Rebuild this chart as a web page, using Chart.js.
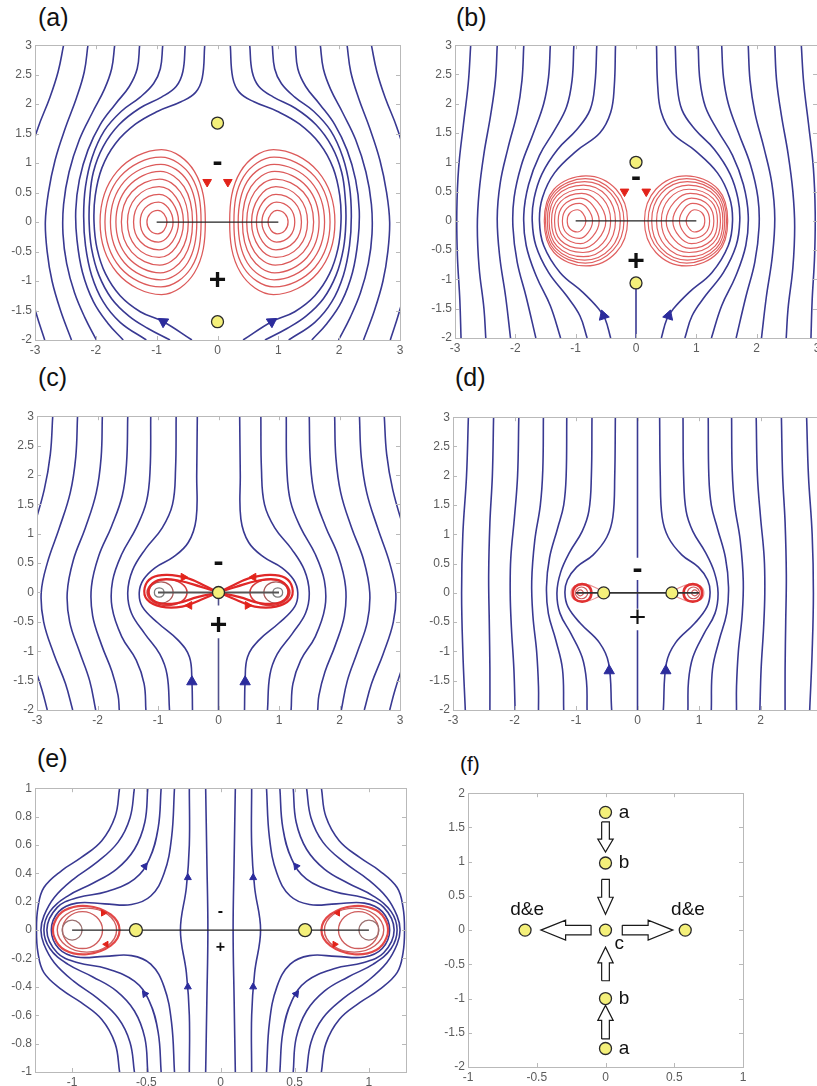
<!DOCTYPE html>
<html>
<head>
<meta charset="utf-8">
<title>Streamlines of a vortex pair, panels (a)-(f)</title>
<script src="https://cdn.jsdelivr.net/npm/chart.js@4.4.1/dist/chart.umd.min.js"></script>
<style>
  html, body { margin: 0; padding: 0; background: #fff; }
  body { position: relative; width: 817px; height: 1086px; overflow: hidden; font-family: 'Liberation Sans', Arial, sans-serif; }
  canvas { position: absolute; }
  .tag { position: absolute; font-size: 25px; line-height: 25px; color: #111; }
</style>
</head>
<body>
<div class="tag" style="left:38px;top:5px">(a)</div>
<div class="tag" style="left:456px;top:5px">(b)</div>
<div class="tag" style="left:38px;top:365px">(c)</div>
<div class="tag" style="left:455px;top:365px">(d)</div>
<div class="tag" style="left:37px;top:746px">(e)</div>
<div class="tag" style="left:460px;top:753px;font-size:21px;line-height:21px">(f)</div>
<script>
// ---------- tick values ----------
const ticksX3 = [-3, -2, -1, 0, 1, 2, 3];
const ticksY3 = [-2, -1.5, -1, -0.5, 0, 0.5, 1, 1.5, 2, 2.5, 3];
const ticksXe = [-1, -0.5, 0, 0.5, 1];
const ticksYe = [-1, -0.8, -0.6, -0.4, -0.2, 0, 0.2, 0.4, 0.6, 0.8, 1];
const ticksXf = [-1, -0.5, 0, 0.5, 1];
const ticksYf = [-2, -1.5, -1, -0.5, 0, 0.5, 1, 1.5, 2];

// ---------- panel (a) ----------  curves are [x,y, x,y, ...]
const aBlue = [
  [-0.21,3, -0.25,2.45, -0.36,2.2, -0.6,2.04, -0.98,1.88, -1.35,1.66, -1.68,1.33, -1.9,0.92, -2.01,0.45, -2.03,0, -1.98,-0.45, -1.84,-0.88, -1.6,-1.25, -1.27,-1.52, -0.89,-1.69, -0.42,-2],
  [-0.53,3, -0.57,2.55, -0.68,2.3, -0.92,2.12, -1.28,1.93, -1.62,1.65, -1.88,1.28, -2.04,0.85, -2.1,0.4, -2.11,0, -2.07,-0.45, -1.95,-0.9, -1.74,-1.3, -1.45,-1.6, -1.15,-1.8, -0.78,-2],
  [-0.9,3, -0.94,2.6, -1.05,2.35, -1.27,2.12, -1.58,1.88, -1.86,1.55, -2.06,1.1, -2.17,0.6, -2.2,0.1, -2.17,-0.4, -2.07,-0.9, -1.88,-1.35, -1.6,-1.7, -1.17,-2],
  [-1.28,3, -1.32,2.6, -1.45,2.3, -1.68,2.0, -1.93,1.65, -2.13,1.22, -2.27,0.72, -2.33,0.2, -2.31,-0.3, -2.22,-0.85, -2.04,-1.35, -1.8,-1.72, -1.55,-2],
  [-1.69,3, -1.74,2.6, -1.86,2.25, -2.06,1.85, -2.27,1.4, -2.44,0.85, -2.53,0.3, -2.54,-0.2, -2.48,-0.7, -2.35,-1.2, -2.18,-1.62, -1.99,-2],
  [-2.13,3, -2.19,2.55, -2.32,2.1, -2.5,1.6, -2.67,1.05, -2.78,0.5, -2.83,0, -2.8,-0.5, -2.72,-1.0, -2.58,-1.5, -2.4,-2],
  [-2.53,3, -2.62,2.55, -2.76,2.1, -2.95,1.6, -3.12,1.0, -3.22,0.3, -3.22,-0.3, -3.12,-1.0, -2.98,-1.55, -2.84,-2],
  [0.21,3, 0.25,2.45, 0.36,2.2, 0.6,2.04, 0.98,1.88, 1.35,1.66, 1.68,1.33, 1.9,0.92, 2.01,0.45, 2.03,0, 1.98,-0.45, 1.84,-0.88, 1.6,-1.25, 1.27,-1.52, 0.89,-1.69, 0.42,-2],
  [0.53,3, 0.57,2.55, 0.68,2.3, 0.92,2.12, 1.28,1.93, 1.62,1.65, 1.88,1.28, 2.04,0.85, 2.1,0.4, 2.11,0, 2.07,-0.45, 1.95,-0.9, 1.74,-1.3, 1.45,-1.6, 1.15,-1.8, 0.78,-2],
  [0.9,3, 0.94,2.6, 1.05,2.35, 1.27,2.12, 1.58,1.88, 1.86,1.55, 2.06,1.1, 2.17,0.6, 2.2,0.1, 2.17,-0.4, 2.07,-0.9, 1.88,-1.35, 1.6,-1.7, 1.17,-2],
  [1.28,3, 1.32,2.6, 1.45,2.3, 1.68,2.0, 1.93,1.65, 2.13,1.22, 2.27,0.72, 2.33,0.2, 2.31,-0.3, 2.22,-0.85, 2.04,-1.35, 1.8,-1.72, 1.55,-2],
  [1.69,3, 1.74,2.6, 1.86,2.25, 2.06,1.85, 2.27,1.4, 2.44,0.85, 2.53,0.3, 2.54,-0.2, 2.48,-0.7, 2.35,-1.2, 2.18,-1.62, 1.99,-2],
  [2.13,3, 2.19,2.55, 2.32,2.1, 2.5,1.6, 2.67,1.05, 2.78,0.5, 2.83,0, 2.8,-0.5, 2.72,-1.0, 2.58,-1.5, 2.4,-2],
  [2.53,3, 2.62,2.55, 2.76,2.1, 2.95,1.6, 3.12,1.0, 3.22,0.3, 3.22,-0.3, 3.12,-1.0, 2.98,-1.55, 2.84,-2]
];
const aRed = [
  [-0.83,0, -0.88,0.14, -0.98,0.2, -1.11,0.14, -1.16,0, -1.11,-0.14, -0.98,-0.2, -0.88,-0.14],
  [-0.73,0, -0.81,0.24, -0.97,0.34, -1.19,0.24, -1.27,0, -1.19,-0.24, -0.97,-0.34, -0.81,-0.24],
  [-0.64,0, -0.74,0.33, -0.96,0.47, -1.27,0.33, -1.38,0, -1.27,-0.33, -0.96,-0.47, -0.74,-0.33],
  [-0.56,0, -0.68,0.42, -0.96,0.6, -1.34,0.42, -1.48,0, -1.34,-0.42, -0.96,-0.6, -0.68,-0.42],
  [-0.48,0, -0.61,0.51, -0.95,0.73, -1.41,0.51, -1.58,0, -1.41,-0.51, -0.95,-0.73, -0.61,-0.51],
  [-0.41,0, -0.55,0.6, -0.94,0.86, -1.47,0.6, -1.67,0, -1.47,-0.6, -0.94,-0.86, -0.55,-0.6],
  [-0.34,0, -0.49,0.69, -0.93,0.98, -1.53,0.69, -1.76,0, -1.53,-0.69, -0.93,-0.98, -0.49,-0.69],
  [-0.27,0, -0.43,0.77, -0.93,1.1, -1.6,0.77, -1.85,0, -1.6,-0.77, -0.93,-1.1, -0.43,-0.77],
  [-0.2,0, -0.38,0.86, -0.92,1.23, -1.65,0.86, -1.93,0, -1.65,-0.86, -0.92,-1.23, -0.38,-0.86],
  [0.83,0, 0.88,0.14, 0.98,0.2, 1.11,0.14, 1.16,0, 1.11,-0.14, 0.98,-0.2, 0.88,-0.14],
  [0.73,0, 0.81,0.24, 0.97,0.34, 1.19,0.24, 1.27,0, 1.19,-0.24, 0.97,-0.34, 0.81,-0.24],
  [0.64,0, 0.74,0.33, 0.96,0.47, 1.27,0.33, 1.38,0, 1.27,-0.33, 0.96,-0.47, 0.74,-0.33],
  [0.56,0, 0.68,0.42, 0.96,0.6, 1.34,0.42, 1.48,0, 1.34,-0.42, 0.96,-0.6, 0.68,-0.42],
  [0.48,0, 0.61,0.51, 0.95,0.73, 1.41,0.51, 1.58,0, 1.41,-0.51, 0.95,-0.73, 0.61,-0.51],
  [0.41,0, 0.55,0.6, 0.94,0.86, 1.47,0.6, 1.67,0, 1.47,-0.6, 0.94,-0.86, 0.55,-0.6],
  [0.34,0, 0.49,0.69, 0.93,0.98, 1.53,0.69, 1.76,0, 1.53,-0.69, 0.93,-0.98, 0.49,-0.69],
  [0.27,0, 0.43,0.77, 0.93,1.1, 1.6,0.77, 1.85,0, 1.6,-0.77, 0.93,-1.1, 0.43,-0.77],
  [0.2,0, 0.38,0.86, 0.92,1.23, 1.65,0.86, 1.93,0, 1.65,-0.86, 0.92,-1.23, 0.38,-0.86]
];
const aCore = [-1,0, 1,0];
const aStag = [0,1.68, 0,-1.69];
const aBlueArrow = [-0.89,-1.69, 0.89,-1.69];
const aRedArrow = [-0.17,0.68, 0.17,0.68];
const aMinus = [0, 1.01];
const aPlus = [0, -1.0];

// ---------- panel (b) ----------
const bBlue = [
  [-0.34,3, -0.36,2.3, -0.42,1.85, -0.6,1.5, -0.98,1.2, -1.35,0.82, -1.55,0.4, -1.6,0, -1.53,-0.42, -1.26,-0.88, -0.88,-1.22, -0.62,-1.5, -0.51,-1.68, -0.42,-2],
  [-0.65,3, -0.68,2.35, -0.76,1.9, -0.98,1.56, -1.3,1.22, -1.56,0.8, -1.69,0.38, -1.72,0, -1.66,-0.42, -1.45,-0.88, -1.15,-1.28, -0.93,-1.62, -0.81,-2],
  [-1.03,3, -1.06,2.4, -1.15,1.95, -1.35,1.55, -1.6,1.12, -1.78,0.62, -1.86,0.1, -1.82,-0.42, -1.65,-0.95, -1.42,-1.45, -1.25,-2],
  [-1.42,3, -1.45,2.45, -1.53,2.0, -1.7,1.5, -1.9,0.95, -2.02,0.4, -2.04,-0.1, -1.97,-0.7, -1.82,-1.3, -1.66,-2],
  [-1.86,3, -1.89,2.4, -1.97,1.85, -2.12,1.25, -2.25,0.65, -2.3,0.05, -2.26,-0.6, -2.16,-1.3, -2.08,-2],
  [-2.3,3, -2.33,2.4, -2.41,1.8, -2.52,1.15, -2.6,0.5, -2.63,-0.1, -2.6,-0.8, -2.52,-1.5, -2.49,-2],
  [-2.74,3, -2.78,2.35, -2.86,1.65, -2.94,0.9, -2.97,0.15, -2.96,-0.6, -2.92,-1.35, -2.9,-2],
  [0.34,3, 0.36,2.3, 0.42,1.85, 0.6,1.5, 0.98,1.2, 1.35,0.82, 1.55,0.4, 1.6,0, 1.53,-0.42, 1.26,-0.88, 0.88,-1.22, 0.62,-1.5, 0.51,-1.68, 0.42,-2],
  [0.65,3, 0.68,2.35, 0.76,1.9, 0.98,1.56, 1.3,1.22, 1.56,0.8, 1.69,0.38, 1.72,0, 1.66,-0.42, 1.45,-0.88, 1.15,-1.28, 0.93,-1.62, 0.81,-2],
  [1.03,3, 1.06,2.4, 1.15,1.95, 1.35,1.55, 1.6,1.12, 1.78,0.62, 1.86,0.1, 1.82,-0.42, 1.65,-0.95, 1.42,-1.45, 1.25,-2],
  [1.42,3, 1.45,2.45, 1.53,2.0, 1.7,1.5, 1.9,0.95, 2.02,0.4, 2.04,-0.1, 1.97,-0.7, 1.82,-1.3, 1.66,-2],
  [1.86,3, 1.89,2.4, 1.97,1.85, 2.12,1.25, 2.25,0.65, 2.3,0.05, 2.26,-0.6, 2.16,-1.3, 2.08,-2],
  [2.3,3, 2.33,2.4, 2.41,1.8, 2.52,1.15, 2.6,0.5, 2.63,-0.1, 2.6,-0.8, 2.52,-1.5, 2.49,-2],
  [2.74,3, 2.78,2.35, 2.86,1.65, 2.94,0.9, 2.97,0.15, 2.96,-0.6, 2.92,-1.35, 2.9,-2]
];
const bRed = [
  [-0.83,0, -0.88,0.13, -0.97,0.19, -1.1,0.13, -1.14,0, -1.1,-0.13, -0.97,-0.19, -0.88,-0.13],
  [-0.72,0, -0.8,0.21, -0.94,0.3, -1.15,0.21, -1.22,0, -1.15,-0.21, -0.94,-0.3, -0.8,-0.21],
  [-0.61,0, -0.72,0.27, -0.92,0.39, -1.2,0.27, -1.29,0, -1.2,-0.27, -0.92,-0.39, -0.72,-0.27],
  [-0.5,0, -0.64,0.33, -0.9,0.47, -1.25,0.33, -1.35,0, -1.25,-0.33, -0.9,-0.47, -0.64,-0.33],
  [-0.42,0, -0.55,0.38, -0.88,0.54, -1.28,0.38, -1.4,0, -1.28,-0.38, -0.88,-0.54, -0.55,-0.38],
  [-0.34,0, -0.49,0.43, -0.87,0.61, -1.31,0.43, -1.44,0, -1.31,-0.43, -0.87,-0.61, -0.49,-0.43],
  [-0.26,0, -0.42,0.47, -0.85,0.67, -1.33,0.47, -1.47,0, -1.33,-0.47, -0.85,-0.67, -0.42,-0.47],
  [-0.2,0, -0.38,0.5, -0.84,0.72, -1.35,0.5, -1.5,0, -1.35,-0.5, -0.84,-0.72, -0.38,-0.5],
  [-0.14,0, -0.33,0.54, -0.83,0.77, -1.36,0.54, -1.52,0, -1.36,-0.54, -0.83,-0.77, -0.33,-0.54],
  [0.83,0, 0.88,0.13, 0.97,0.19, 1.1,0.13, 1.14,0, 1.1,-0.13, 0.97,-0.19, 0.88,-0.13],
  [0.72,0, 0.8,0.21, 0.94,0.3, 1.15,0.21, 1.22,0, 1.15,-0.21, 0.94,-0.3, 0.8,-0.21],
  [0.61,0, 0.72,0.27, 0.92,0.39, 1.2,0.27, 1.29,0, 1.2,-0.27, 0.92,-0.39, 0.72,-0.27],
  [0.5,0, 0.64,0.33, 0.9,0.47, 1.25,0.33, 1.35,0, 1.25,-0.33, 0.9,-0.47, 0.64,-0.33],
  [0.42,0, 0.55,0.38, 0.88,0.54, 1.28,0.38, 1.4,0, 1.28,-0.38, 0.88,-0.54, 0.55,-0.38],
  [0.34,0, 0.49,0.43, 0.87,0.61, 1.31,0.43, 1.44,0, 1.31,-0.43, 0.87,-0.61, 0.49,-0.43],
  [0.26,0, 0.42,0.47, 0.85,0.67, 1.33,0.47, 1.47,0, 1.33,-0.47, 0.85,-0.67, 0.42,-0.47],
  [0.2,0, 0.38,0.5, 0.84,0.72, 1.35,0.5, 1.5,0, 1.35,-0.5, 0.84,-0.72, 0.38,-0.5],
  [0.14,0, 0.33,0.54, 0.83,0.77, 1.36,0.54, 1.52,0, 1.36,-0.54, 0.83,-0.77, 0.33,-0.54]
];
const bCore = [-1,0, 1,0];
const bAxisLine = [0,-2, 0,-1.06];
const bStag = [0,1.0, 0,-1.06];
const bBlueArrow = [-0.54,-1.62, 0.54,-1.62];
const bRedArrow = [-0.19,0.5, 0.17,0.5];
const bMinus = [0, 0.74];
const bPlus = [0, -0.7];

// ---------- panel (c) ----------
const cBlue = [
  [-0.35,3, -0.36,2.0, -0.37,1.25, -0.5,0.85, -0.75,0.6, -1.05,0.42, -1.24,0.22, -1.31,0, -1.26,-0.24, -1.0,-0.52, -0.66,-0.82, -0.48,-1.1, -0.44,-1.5, -0.43,-2],
  [-0.7,3, -0.71,2.1, -0.76,1.5, -0.93,1.1, -1.2,0.75, -1.42,0.38, -1.5,0, -1.44,-0.35, -1.22,-0.7, -0.97,-1.05, -0.85,-1.4, -0.81,-2],
  [-1.12,3, -1.13,2.1, -1.19,1.55, -1.36,1.1, -1.6,0.65, -1.75,0.2, -1.76,-0.25, -1.6,-0.75, -1.36,-1.15, -1.23,-1.55, -1.2,-2],
  [-1.5,3, -1.52,2.2, -1.59,1.65, -1.77,1.12, -1.98,0.62, -2.1,0.1, -2.08,-0.4, -1.93,-0.9, -1.76,-1.35, -1.66,-1.75, -1.64,-2],
  [-1.92,3, -1.94,2.3, -2.02,1.7, -2.2,1.1, -2.4,0.55, -2.5,0, -2.46,-0.5, -2.3,-1.0, -2.13,-1.5, -2.03,-2],
  [-2.33,3, -2.36,2.3, -2.45,1.7, -2.63,1.1, -2.83,0.5, -2.93,0, -2.89,-0.5, -2.72,-1.05, -2.53,-1.55, -2.41,-2],
  [-2.74,3, -2.78,2.35, -2.88,1.75, -3.06,1.1, -3.28,0.45, -3.36,0, -3.3,-0.5, -3.08,-1.15, -2.92,-1.65, -2.83,-2],
  [0.35,3, 0.36,2.0, 0.37,1.25, 0.5,0.85, 0.75,0.6, 1.05,0.42, 1.24,0.22, 1.31,0, 1.26,-0.24, 1.0,-0.52, 0.66,-0.82, 0.48,-1.1, 0.44,-1.5, 0.43,-2],
  [0.7,3, 0.71,2.1, 0.76,1.5, 0.93,1.1, 1.2,0.75, 1.42,0.38, 1.5,0, 1.44,-0.35, 1.22,-0.7, 0.97,-1.05, 0.85,-1.4, 0.81,-2],
  [1.12,3, 1.13,2.1, 1.19,1.55, 1.36,1.1, 1.6,0.65, 1.75,0.2, 1.76,-0.25, 1.6,-0.75, 1.36,-1.15, 1.23,-1.55, 1.2,-2],
  [1.5,3, 1.52,2.2, 1.59,1.65, 1.77,1.12, 1.98,0.62, 2.1,0.1, 2.08,-0.4, 1.93,-0.9, 1.76,-1.35, 1.66,-1.75, 1.64,-2],
  [1.92,3, 1.94,2.3, 2.02,1.7, 2.2,1.1, 2.4,0.55, 2.5,0, 2.46,-0.5, 2.3,-1.0, 2.13,-1.5, 2.03,-2],
  [2.33,3, 2.36,2.3, 2.45,1.7, 2.63,1.1, 2.83,0.5, 2.93,0, 2.89,-0.5, 2.72,-1.05, 2.53,-1.55, 2.41,-2],
  [2.74,3, 2.78,2.35, 2.88,1.75, 3.06,1.1, 3.28,0.45, 3.36,0, 3.3,-0.5, 3.08,-1.15, 2.92,-1.65, 2.83,-2]
];
const cAxisLines = [[0,-2, 0,-0.78], [0,-0.22, 0,0]];
const cLobes = [
  [0,0, -0.2,0.1, -0.5,0.24, -0.85,0.3, -1.1,0.25, -1.22,0.08, -1.18,-0.12, -0.95,-0.24, -0.6,-0.24, -0.28,-0.12, 0,0],
  [0,0, -0.3,0.1, -0.65,0.2, -0.95,0.22, -1.12,0.12, -1.14,-0.06, -0.98,-0.18, -0.68,-0.18, -0.35,-0.08, 0,0],
  [0,0, 0.2,0.1, 0.5,0.24, 0.85,0.3, 1.1,0.25, 1.22,0.08, 1.18,-0.12, 0.95,-0.24, 0.6,-0.24, 0.28,-0.12, 0,0],
  [0,0, 0.3,0.1, 0.65,0.2, 0.95,0.22, 1.12,0.12, 1.14,-0.06, 0.98,-0.18, 0.68,-0.18, 0.35,-0.08, 0,0]
];
const cLoopsOuter = [
  [-0.52,0, -0.62,0.16, -0.85,0.22, -1.08,0.16, -1.18,0, -1.08,-0.16, -0.85,-0.22, -0.62,-0.16],
  [0.52,0, 0.62,0.16, 0.85,0.22, 1.08,0.16, 1.18,0, 1.08,-0.16, 0.85,-0.22, 0.62,-0.16]
];
const cLoopsMid = [
  [-0.75,0, -0.81,0.13, -0.95,0.18, -1.09,0.13, -1.15,0, -1.09,-0.13, -0.95,-0.18, -0.81,-0.13],
  [0.75,0, 0.81,0.13, 0.95,0.18, 1.09,0.13, 1.15,0, 1.09,-0.13, 0.95,-0.18, 0.81,-0.13]
];
const cLoopsCore = [
  [-0.9,0, -0.92,0.057, -0.98,0.08, -1.04,0.057, -1.06,0, -1.04,-0.057, -0.98,-0.08, -0.92,-0.057],
  [0.9,0, 0.92,0.057, 0.98,0.08, 1.04,0.057, 1.06,0, 1.04,-0.057, 0.98,-0.08, 0.92,-0.057]
];
const cCore = [-1,0, 1,0];
const cStag = [0,0];
const cBlueArrow = [-0.44,-1.52, 0.44,-1.52];
const cRedArrow = [-0.58,0.26, -0.48,-0.22, 0.58,0.26, 0.48,-0.22];
const cMinus = [0, 0.5];
const cPlus = [0, -0.56];

// ---------- panel (d) ----------
const dBlue = [
  [-0.36,3, -0.37,2.0, -0.4,1.3, -0.5,0.95, -0.72,0.65, -0.99,0.44, -1.14,0.22, -1.18,0, -1.13,-0.24, -0.93,-0.52, -0.62,-0.85, -0.47,-1.2, -0.42,-2],
  [-0.74,3, -0.75,2.0, -0.79,1.4, -0.9,1.05, -1.1,0.7, -1.25,0.35, -1.31,0, -1.26,-0.35, -1.08,-0.7, -0.9,-1.1, -0.83,-1.5, -0.82,-2],
  [-1.15,3, -1.16,2.0, -1.2,1.5, -1.3,1.1, -1.43,0.6, -1.48,0.1, -1.45,-0.35, -1.33,-0.8, -1.22,-1.3, -1.2,-2],
  [-1.53,3, -1.54,2.1, -1.58,1.5, -1.67,0.9, -1.72,0.2, -1.7,-0.4, -1.64,-1.0, -1.61,-1.6, -1.61,-2],
  [-1.93,3, -1.95,2.0, -2.0,1.3, -2.06,0.6, -2.07,0, -2.05,-0.6, -2.01,-1.3, -1.99,-2],
  [-2.34,3, -2.36,2.0, -2.4,1.2, -2.42,0.3, -2.41,-0.5, -2.4,-1.3, -2.4,-2],
  [-2.75,3, -2.78,2.0, -2.84,1.0, -2.86,0, -2.84,-1.0, -2.8,-2],
  [0.36,3, 0.37,2.0, 0.4,1.3, 0.5,0.95, 0.72,0.65, 0.99,0.44, 1.14,0.22, 1.18,0, 1.13,-0.24, 0.93,-0.52, 0.62,-0.85, 0.47,-1.2, 0.42,-2],
  [0.74,3, 0.75,2.0, 0.79,1.4, 0.9,1.05, 1.1,0.7, 1.25,0.35, 1.31,0, 1.26,-0.35, 1.08,-0.7, 0.9,-1.1, 0.83,-1.5, 0.82,-2],
  [1.15,3, 1.16,2.0, 1.2,1.5, 1.3,1.1, 1.43,0.6, 1.48,0.1, 1.45,-0.35, 1.33,-0.8, 1.22,-1.3, 1.2,-2],
  [1.53,3, 1.54,2.1, 1.58,1.5, 1.67,0.9, 1.72,0.2, 1.7,-0.4, 1.64,-1.0, 1.61,-1.6, 1.61,-2],
  [1.93,3, 1.95,2.0, 2.0,1.3, 2.06,0.6, 2.07,0, 2.05,-0.6, 2.01,-1.3, 1.99,-2],
  [2.34,3, 2.36,2.0, 2.4,1.2, 2.42,0.3, 2.41,-0.5, 2.4,-1.3, 2.4,-2],
  [2.75,3, 2.78,2.0, 2.84,1.0, 2.86,0, 2.84,-1.0, 2.8,-2]
];
const dAxisLines = [[0,3, 0,0.6], [0,0.22, 0,-0.27], [0,-0.64, 0,-2]];
const dLoopsOuter = [
  [-0.75,0, -0.79,0.11, -0.9,0.15, -1.01,0.11, -1.05,0, -1.01,-0.11, -0.9,-0.15, -0.79,-0.11],
  [0.75,0, 0.79,0.11, 0.9,0.15, 1.01,0.11, 1.05,0, 1.01,-0.11, 0.9,-0.15, 0.79,-0.11]
];
const dLoopsInner = [
  [-0.81,0, -0.84,0.07, -0.91,0.1, -0.98,0.07, -1.01,0, -0.98,-0.07, -0.91,-0.1, -0.84,-0.07],
  [-0.88,0, -0.895,0.035, -0.93,0.05, -0.965,0.035, -0.98,0, -0.965,-0.035, -0.93,-0.05, -0.895,-0.035],
  [0.81,0, 0.84,0.07, 0.91,0.1, 0.98,0.07, 1.01,0, 0.98,-0.07, 0.91,-0.1, 0.84,-0.07],
  [0.88,0, 0.895,0.035, 0.93,0.05, 0.965,0.035, 0.98,0, 0.965,-0.035, 0.93,-0.05, 0.895,-0.035]
];
const dLobes = [
  [-0.55,0, -0.66,0.08, -0.85,0.15, -1.02,0.12, -1.08,0, -1.02,-0.12, -0.85,-0.15, -0.66,-0.08, -0.55,0],
  [0.56,0, 0.66,0.08, 0.85,0.15, 1.02,0.12, 1.08,0, 1.02,-0.12, 0.85,-0.15, 0.66,-0.08, 0.56,0]
];
const dCore = [-1,0, 1,0];
const dStag = [-0.55,0, 0.56,0];
const dBlueArrow = [-0.46,-1.33, 0.46,-1.33];
const dMinus = [0, 0.39];
const dPlus = [0, -0.44];

// ---------- panel (e) ----------
const eBlue = [
  [-0.1,1, -0.092,0.5, -0.085,0, -0.092,-0.5, -0.1,-1],
  [-0.21,1, -0.21,0.6, -0.23,0.3, -0.27,0, -0.23,-0.3, -0.21,-0.6, -0.21,-1],
  [-0.31,1, -0.33,0.65, -0.38,0.4, -0.47,0.24, -0.6,0.18, -0.78,0.185, -0.97,0.19, -1.09,0.13, -1.14,0, -1.09,-0.13, -0.97,-0.19, -0.78,-0.185, -0.6,-0.18, -0.47,-0.24, -0.38,-0.4, -0.33,-0.65, -0.31,-1],
  [-0.4,1, -0.42,0.72, -0.48,0.5, -0.58,0.36, -0.77,0.27, -0.96,0.23, -1.1,0.16, -1.17,0, -1.1,-0.16, -0.96,-0.23, -0.77,-0.27, -0.58,-0.36, -0.48,-0.5, -0.42,-0.72, -0.4,-1],
  [-0.49,1, -0.51,0.76, -0.58,0.57, -0.7,0.43, -0.86,0.33, -1.03,0.24, -1.15,0.13, -1.19,0, -1.15,-0.13, -1.03,-0.24, -0.86,-0.33, -0.7,-0.43, -0.58,-0.57, -0.51,-0.76, -0.49,-1],
  [-0.58,1, -0.61,0.79, -0.69,0.62, -0.83,0.48, -0.99,0.36, -1.12,0.23, -1.19,0.1, -1.21,0, -1.19,-0.1, -1.12,-0.23, -0.99,-0.36, -0.83,-0.48, -0.69,-0.62, -0.61,-0.79, -0.58,-1],
  [-0.68,1, -0.71,0.8, -0.8,0.63, -0.94,0.51, -1.07,0.42, -1.19,0.3, -1.23,0.16, -1.24,0, -1.23,-0.16, -1.19,-0.3, -1.07,-0.42, -0.94,-0.51, -0.8,-0.63, -0.71,-0.8, -0.68,-1],
  [0.1,1, 0.092,0.5, 0.085,0, 0.092,-0.5, 0.1,-1],
  [0.21,1, 0.21,0.6, 0.23,0.3, 0.27,0, 0.23,-0.3, 0.21,-0.6, 0.21,-1],
  [0.31,1, 0.33,0.65, 0.38,0.4, 0.47,0.24, 0.6,0.18, 0.78,0.185, 0.97,0.19, 1.09,0.13, 1.14,0, 1.09,-0.13, 0.97,-0.19, 0.78,-0.185, 0.6,-0.18, 0.47,-0.24, 0.38,-0.4, 0.33,-0.65, 0.31,-1],
  [0.4,1, 0.42,0.72, 0.48,0.5, 0.58,0.36, 0.77,0.27, 0.96,0.23, 1.1,0.16, 1.17,0, 1.1,-0.16, 0.96,-0.23, 0.77,-0.27, 0.58,-0.36, 0.48,-0.5, 0.42,-0.72, 0.4,-1],
  [0.49,1, 0.51,0.76, 0.58,0.57, 0.7,0.43, 0.86,0.33, 1.03,0.24, 1.15,0.13, 1.19,0, 1.15,-0.13, 1.03,-0.24, 0.86,-0.33, 0.7,-0.43, 0.58,-0.57, 0.51,-0.76, 0.49,-1],
  [0.58,1, 0.61,0.79, 0.69,0.62, 0.83,0.48, 0.99,0.36, 1.12,0.23, 1.19,0.1, 1.21,0, 1.19,-0.1, 1.12,-0.23, 0.99,-0.36, 0.83,-0.48, 0.69,-0.62, 0.61,-0.79, 0.58,-1],
  [0.68,1, 0.71,0.8, 0.8,0.63, 0.94,0.51, 1.07,0.42, 1.19,0.3, 1.23,0.16, 1.24,0, 1.23,-0.16, 1.19,-0.3, 1.07,-0.42, 0.94,-0.51, 0.8,-0.63, 0.71,-0.8, 0.68,-1]
];
const eRedOuter = [
  [-0.68,0, -0.74,0.11, -0.9,0.17, -1.05,0.14, -1.12,0.05, -1.12,-0.05, -1.05,-0.14, -0.9,-0.17, -0.74,-0.11],
  [0.68,0, 0.74,0.11, 0.9,0.17, 1.05,0.14, 1.12,0.05, 1.12,-0.05, 1.05,-0.14, 0.9,-0.17, 0.74,-0.11]
];
const eRedInner = [
  [-0.7,0, -0.76,0.11, -0.9,0.155, -1.04,0.11, -1.1,0, -1.04,-0.11, -0.9,-0.155, -0.76,-0.11],
  [-0.795,0, -0.835,0.092, -0.93,0.13, -1.025,0.092, -1.065,0, -1.025,-0.092, -0.93,-0.13, -0.835,-0.092],
  [0.7,0, 0.76,0.11, 0.9,0.155, 1.04,0.11, 1.1,0, 1.04,-0.11, 0.9,-0.155, 0.76,-0.11],
  [0.795,0, 0.835,0.092, 0.93,0.13, 1.025,0.092, 1.065,0, 1.025,-0.092, 0.93,-0.13, 0.835,-0.092]
];
const eRedCore = [
  [-0.933,0, -0.953,0.05, -1.0,0.07, -1.047,0.05, -1.067,0, -1.047,-0.05, -1.0,-0.07, -0.953,-0.05],
  [0.933,0, 0.953,0.05, 1.0,0.07, 1.047,0.05, 1.067,0, 1.047,-0.05, 1.0,-0.07, 0.953,-0.05]
];
const eCore = [-1,0, 1,0];
const eStag = [-0.57,0, 0.57,0];
const eBlueArrow = [-0.51,0.45, -0.22,0.37, 0.22,0.37, 0.51,0.45, -0.51,-0.45, -0.22,-0.4, 0.22,-0.4, 0.51,-0.45];
const eRedArrow = [-0.79,0.12, -0.77,-0.1, 0.79,0.12, 0.77,-0.1];
const eMinus = [0, 0.13];
const ePlus = [0, -0.12];

// ---------- panel (f) ----------
const fStates = [0,1.72, 0,0.98, 0,0, 0,-1.0, 0,-1.73, -0.585,0, 0.58,0];
const fLabels = ['a', 'b', 'c', 'b', 'a', 'd&e', 'd&e'];
const fLabelPos = [0.135,1.72, 0.135,0.98, 0.1,-0.2, 0.135,-1.0, 0.135,-1.73, -0.57,0.3, 0.6,0.3];
const fArrows = [
  [-0.028,1.58, 0.028,1.58, 0.028,1.33, 0.056,1.33, 0,1.14, -0.056,1.33, -0.028,1.33, -0.028,1.58],
  [-0.028,0.74, 0.028,0.74, 0.028,0.48, 0.056,0.48, 0,0.23, -0.056,0.48, -0.028,0.48, -0.028,0.74],
  [-0.105,0.07, -0.105,-0.07, -0.29,-0.07, -0.29,-0.146, -0.47,0, -0.29,0.146, -0.29,0.07, -0.105,0.07],
  [0.122,0.07, 0.122,-0.07, 0.31,-0.07, 0.31,-0.146, 0.49,0, 0.31,0.146, 0.31,0.07, 0.122,0.07],
  [-0.028,-0.74, 0.028,-0.74, 0.028,-0.48, 0.056,-0.48, 0,-0.25, -0.056,-0.48, -0.028,-0.48, -0.028,-0.74],
  [-0.028,-1.59, 0.028,-1.59, 0.028,-1.32, 0.056,-1.32, 0,-1.1, -0.056,-1.32, -0.028,-1.32, -0.028,-1.59]
];

// ---------- helpers ----------
const BLUE = '#393992';
const FONT = '"Liberation Sans", Arial, sans-serif';

function pts(flat) {
  const out = [];
  for (let i = 0; i < flat.length; i += 2) out.push({ x: flat[i], y: flat[i + 1] });
  return out;
}

function curve(flat, color, width, order, tension) {
  return {
    data: pts(flat), showLine: true, borderColor: color, borderWidth: width,
    pointRadius: 0, pointHitRadius: 0, tension: tension === undefined ? 0.4 : tension,
    capBezierPoints: false, fill: false, order: order
  };
}

// closed curve: wrap the ends so the spline is smooth all round, hide the two helper segments
function loop(flat, color, width, order) {
  const p = pts(flat);
  const data = [p[p.length - 1]].concat(p, [p[0], p[1]]);
  const last = data.length - 1;
  const ds = curve(flat, color, width, order, 0.37);
  ds.data = data;
  ds.segment = { borderColor: c => (c.p0DataIndex === 0 || c.p1DataIndex === last) ? 'rgba(0,0,0,0)' : color };
  return ds;
}

function dots(flat, r) {
  return { data: pts(flat), showLine: false, pointRadius: r, pointBackgroundColor: '#f4f07a',
           pointBorderColor: '#2a2a2a', pointBorderWidth: 1.3, order: 0 };
}

function arrows(flat, rot, color, r) {
  return { data: pts(flat), showLine: false, pointStyle: 'triangle', pointRadius: r, pointRotation: rot,
           pointBackgroundColor: color, pointBorderColor: color, pointBorderWidth: 1, order: 1 };
}

function note(t, p, font) { return { t: t, p: p, font: font }; }

// matlab-like box with inward ticks, plus text placed in data units
function frame(notes) {
  return {
    id: 'frame',
    afterDatasetsDraw(chart) {
      const ctx = chart.ctx, a = chart.chartArea, sx = chart.scales.x, sy = chart.scales.y;
      ctx.save();
      notes.forEach(n => {
        ctx.font = n.font;
        ctx.fillStyle = '#111';
        ctx.textAlign = 'center';
        ctx.textBaseline = 'middle';
        ctx.fillText(n.t, sx.getPixelForValue(n.p[0]), sy.getPixelForValue(n.p[1]));
      });
      ctx.strokeStyle = '#b9b9b9';
      ctx.lineWidth = 1;
      ctx.strokeRect(Math.round(a.left) + 0.5, Math.round(a.top) + 0.5, Math.round(a.right - a.left), Math.round(a.bottom - a.top));
      ctx.beginPath();
      sx.ticks.forEach(t => {
        const p = Math.round(sx.getPixelForValue(t.value)) + 0.5;
        ctx.moveTo(p, a.bottom); ctx.lineTo(p, a.bottom - 4);
        ctx.moveTo(p, a.top); ctx.lineTo(p, a.top + 4);
      });
      sy.ticks.forEach(t => {
        const p = Math.round(sy.getPixelForValue(t.value)) + 0.5;
        ctx.moveTo(a.left, p); ctx.lineTo(a.left + 4, p);
        ctx.moveTo(a.right, p); ctx.lineTo(a.right - 4, p);
      });
      ctx.stroke();
      ctx.restore();
    }
  };
}

function panel(rect, xr, yr, xt, yt, datasets, notes) {
  const pad = { l: 34, t: 10, r: 8, b: 22 };
  const cv = document.createElement('canvas');
  cv.width = rect.R - rect.L + pad.l + pad.r;
  cv.height = rect.B - rect.T + pad.t + pad.b;
  cv.style.left = (rect.L - pad.l) + 'px';
  cv.style.top = (rect.T - pad.t) + 'px';
  document.body.appendChild(cv);
  const tickFont = { family: FONT, size: 12 };
  const fmt = v => String(Math.round(v * 100) / 100);
  const axis = (range, ticks, fit) => ({
    type: 'linear', min: range[0], max: range[1],
    grid: { display: false, drawTicks: false }, border: { display: false },
    afterBuildTicks: s => { s.ticks = ticks.map(v => ({ value: v })); },
    afterFit: fit,
    ticks: { autoSkip: false, maxRotation: 0, padding: 3, color: '#5c5c5c', font: tickFont, callback: fmt }
  });
  return new Chart(cv, {
    type: 'scatter',
    data: { datasets: datasets },
    options: {
      responsive: false, animation: false, devicePixelRatio: 1, events: [],
      layout: { padding: { left: 0, top: pad.t, right: pad.r, bottom: 0 } },
      elements: { line: { capBezierPoints: false } },
      plugins: { legend: { display: false }, tooltip: { enabled: false } },
      scales: {
        x: axis(xr, xt, s => { s.height = pad.b; }),
        y: axis(yr, yt, s => { s.width = pad.l; })
      }
    },
    plugins: [frame(notes)]
  });
}

const SIGN = 'bold 30px ' + FONT;

// (a)
panel({ L: 35, T: 45, R: 400, B: 340 }, [-3, 3], [-2, 3], ticksX3, ticksY3, [].concat(
  [dots(aStag, 6)],
  [arrows(aBlueArrow, [-57, 57], '#2c2c9c', 6)],
  [arrows(aRedArrow, [180, 180], '#e2231a', 5)],
  [curve(aCore, '#222', 1.3, 2, 0)],
  aRed.map(l => loop(l, '#dc5a5a', 1.3, 3)),
  aBlue.map(l => curve(l, BLUE, 1.6, 4))
), [note('-', aMinus, SIGN), note('+', aPlus, SIGN)]);

// (b)
panel({ L: 455, T: 45, R: 817, B: 338 }, [-3, 3], [-2, 3], ticksX3, ticksY3, [].concat(
  [dots(bStag, 6)],
  [arrows(bBlueArrow, [-18, 18], '#2c2c9c', 6)],
  [arrows(bRedArrow, [180, 180], '#e2231a', 5)],
  [curve(bCore, '#222', 1.3, 2, 0)],
  bRed.map(l => loop(l, '#e06060', 1.2, 3)),
  [curve(bAxisLine, BLUE, 1.6, 4, 0)],
  bBlue.map(l => curve(l, BLUE, 1.6, 4))
), [note('-', bMinus, SIGN), note('+', bPlus, SIGN)]);

// (c)
panel({ L: 37, T: 416, R: 400, B: 710 }, [-3, 3], [-2, 3], ticksX3, ticksY3, [].concat(
  [dots(cStag, 6)],
  [arrows(cBlueArrow, [0, 0], '#2c2c9c', 6)],
  [arrows(cRedArrow, [90, -90, -90, 90], '#e2231a', 4.5)],
  [curve(cCore, '#555', 2.2, 2, 0)],
  cLobes.map(l => curve(l, '#e02828', 2.2, 3)),
  cLoopsOuter.map(l => loop(l, '#d43c3c', 1.6, 3)),
  cLoopsMid.map(l => loop(l, '#a85a5a', 1.3, 3)),
  cLoopsCore.map(l => loop(l, '#7c7c7c', 1.3, 3)),
  cAxisLines.map(l => curve(l, '#50508c', 1.6, 4, 0)),
  cBlue.map(l => curve(l, BLUE, 1.6, 4))
), [note('-', cMinus, SIGN), note('+', cPlus, SIGN)]);

// (d)
panel({ L: 453, T: 417, R: 822, B: 710 }, [-3, 3], [-2, 3], ticksX3, ticksY3, [].concat(
  [dots(dStag, 6)],
  [arrows(dBlueArrow, [0, 0], '#2c2c9c', 6)],
  [curve(dCore, '#333', 1.6, 2, 0)],
  dLoopsOuter.map(l => loop(l, '#e03030', 2.6, 3)),
  dLoopsInner.map(l => loop(l, '#cf5c5c', 1.2, 3)),
  dLobes.map(l => curve(l, '#e89090', 1.1, 3)),
  dAxisLines.map(l => curve(l, BLUE, 1.6, 4, 0)),
  dBlue.map(l => curve(l, BLUE, 1.6, 4))
), [note('-', dMinus, SIGN), note('+', dPlus, '30px ' + FONT)]);

// (e)
panel({ L: 35, T: 788, R: 406, B: 1072 }, [-1.25, 1.25], [-1, 1], ticksXe, ticksYe, [].concat(
  [dots(eStag, 6.5)],
  [arrows(eBlueArrow, [37, 0, 0, -37, -37, 0, 0, 37], '#2c2c9c', 4)],
  [arrows(eRedArrow, [90, -90, -90, 90], '#e2231a', 3.5)],
  [curve(eCore, '#222', 1.3, 2, 0)],
  eRedCore.map(l => loop(l, '#9a7070', 1.2, 3)),
  eRedInner.map(l => loop(l, '#cf5d5d', 1.4, 3)),
  eRedOuter.map(l => loop(l, '#e34848', 2.2, 3)),
  eBlue.map(l => curve(l, BLUE, 1.6, 4))
), [note('-', eMinus, 'bold 16px ' + FONT), note('+', ePlus, 'bold 16px ' + FONT)]);

// (f)
const fNotes = fLabels.map((t, i) => note(t, [fLabelPos[2 * i], fLabelPos[2 * i + 1]], '19px ' + FONT));
panel({ L: 468, T: 793, R: 743, B: 1067 }, [-1, 1], [-2, 2], ticksXf, ticksYf, [].concat(
  [dots(fStates, 6)],
  fArrows.map(l => curve(l, '#1a1a1a', 1.2, 2, 0))
), fNotes);
</script>
</body>
</html>
